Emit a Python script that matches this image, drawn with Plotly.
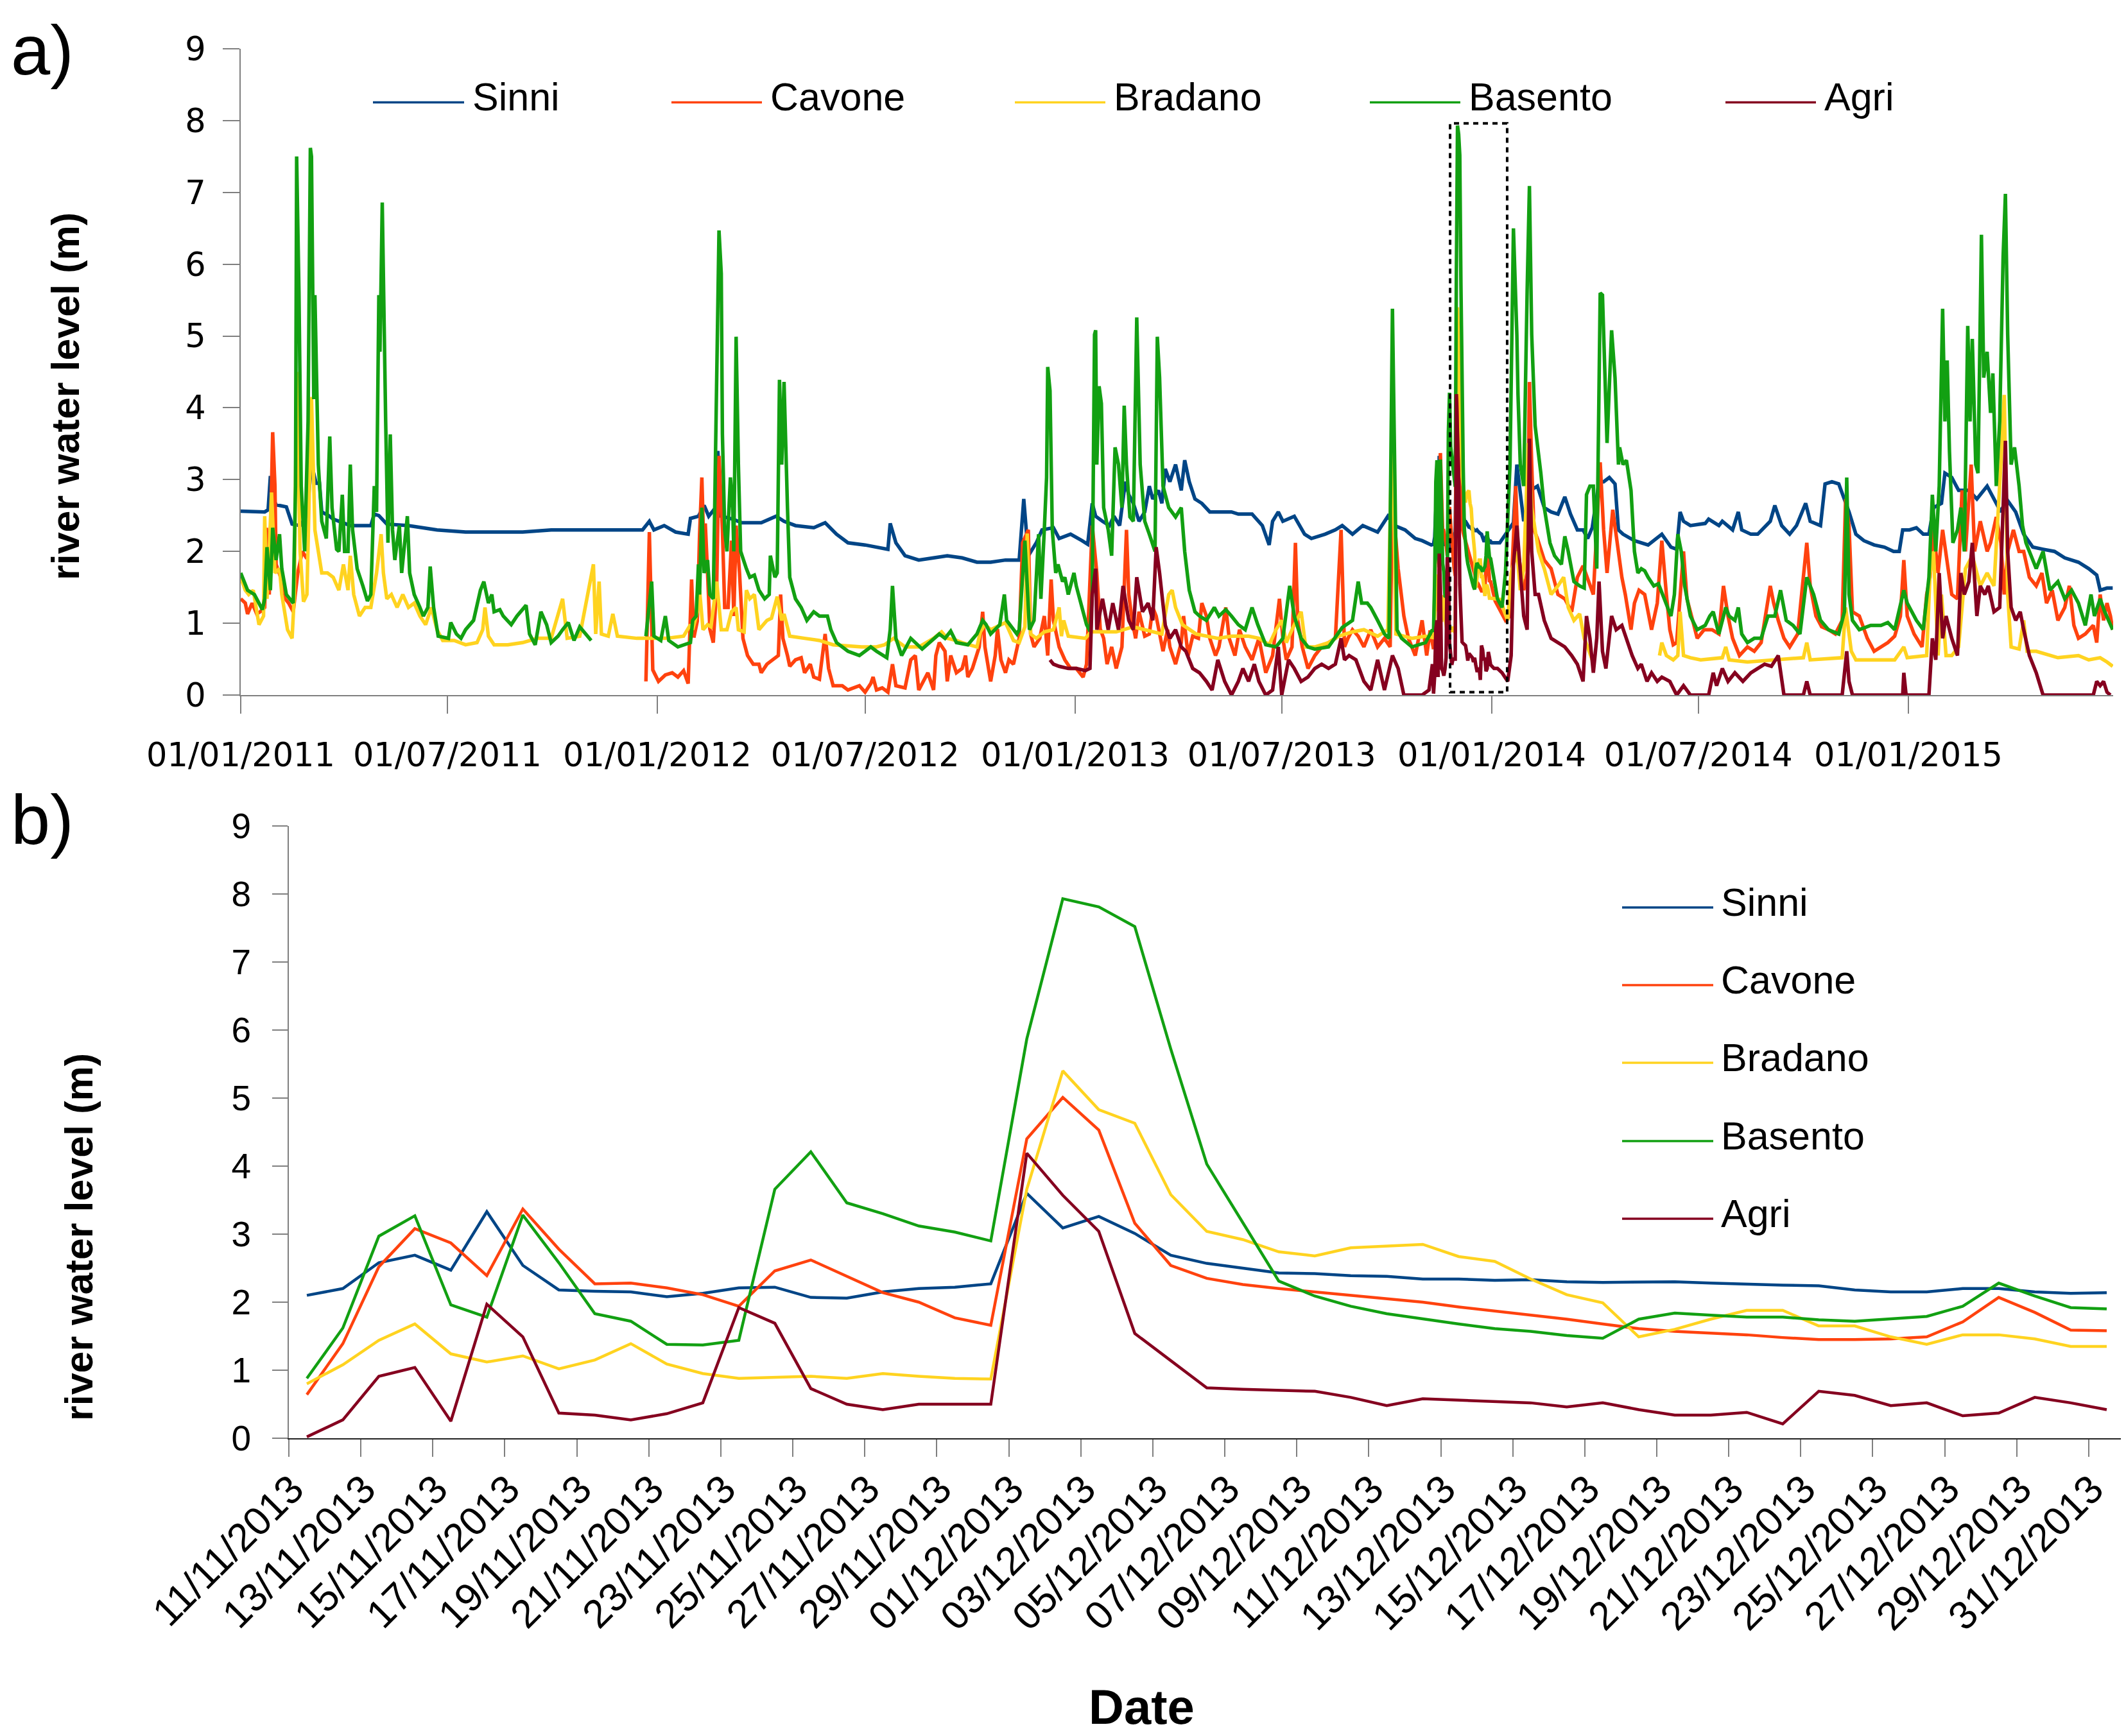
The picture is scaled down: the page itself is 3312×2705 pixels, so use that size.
import pandas as pd
import plotly.graph_objects as go

W, H = 3312, 2705
START = pd.Timestamp("2011-01-01")

names = ["Sinni", "Cavone", "Bradano", "Basento", "Agri"]
colors = ["#004586", "#ff420e", "#ffd320", "#12a012", "#85001f"]

# ---- panel b: daily river level, 11/11/2013 .. 31/12/2013
b_dates = pd.date_range("2013-11-11", "2013-12-31", freq="D")
b_ticks = ["11/11/2013", "13/11/2013", "15/11/2013", "17/11/2013", "19/11/2013",
           "21/11/2013", "23/11/2013", "25/11/2013", "27/11/2013", "29/11/2013",
           "01/12/2013", "03/12/2013", "05/12/2013", "07/12/2013", "09/12/2013",
           "11/12/2013", "13/12/2013", "15/12/2013", "17/12/2013", "19/12/2013",
           "21/12/2013", "23/12/2013", "25/12/2013", "27/12/2013", "29/12/2013",
           "31/12/2013"]

b_sinni = [2.10, 2.20, 2.58, 2.69, 2.47, 3.33, 2.54, 2.18, 2.16, 2.15,
           2.08, 2.13, 2.21, 2.22, 2.07, 2.06, 2.15, 2.20, 2.22, 2.27,
           3.60, 3.09, 3.26, 3.01, 2.69, 2.57, 2.50, 2.43, 2.42, 2.39,
           2.38, 2.34, 2.34, 2.32, 2.33, 2.30, 2.29, 2.29, 2.30, 2.28,
           2.26, 2.25, 2.24, 2.18, 2.15, 2.15, 2.20, 2.20, 2.15, 2.13, 2.14]
b_cavone = [0.64, 1.39, 2.52, 3.08, 2.87, 2.39, 3.37, 2.78, 2.27, 2.28,
            2.21, 2.11, 1.94, 2.46, 2.62, 2.38, 2.14, 2.00, 1.77, 1.66,
            4.40, 5.01, 4.53, 3.16, 2.54, 2.35, 2.26, 2.20, 2.15, 2.11,
            2.06, 2.00, 1.93, 1.87, 1.82, 1.75, 1.68, 1.61, 1.57, 1.55,
            1.52, 1.48, 1.45, 1.45, 1.46, 1.49, 1.71, 2.07, 1.85, 1.59, 1.58]
b_bradano = [0.80, 1.08, 1.44, 1.68, 1.24, 1.12, 1.21, 1.02, 1.15, 1.39,
             1.09, 0.95, 0.88, 0.90, 0.91, 0.88, 0.95, 0.91, 0.88, 0.87,
             3.66, 5.40, 4.83, 4.63, 3.58, 3.04, 2.92, 2.74, 2.68, 2.80,
             2.83, 2.85, 2.67, 2.60, 2.34, 2.11, 1.99, 1.49, 1.60, 1.75,
             1.88, 1.88, 1.65, 1.65, 1.49, 1.38, 1.52, 1.52, 1.46, 1.35, 1.35]
b_basento = [0.88, 1.62, 2.97, 3.27, 1.96, 1.78, 3.28, 2.58, 1.83, 1.72,
             1.38, 1.37, 1.44, 3.66, 4.21, 3.46, 3.30, 3.12, 3.03, 2.90,
             5.87, 7.93, 7.81, 7.52, 5.72, 4.03, 3.17, 2.31, 2.09, 1.94,
             1.83, 1.75, 1.68, 1.61, 1.57, 1.51, 1.47, 1.75, 1.84, 1.81,
             1.78, 1.78, 1.74, 1.72, 1.76, 1.79, 1.94, 2.28, 2.09, 1.92, 1.90]
b_agri = [0.02, 0.27, 0.91, 1.04, 0.25, 1.97, 1.49, 0.37, 0.34, 0.27,
          0.36, 0.52, 1.92, 1.69, 0.73, 0.50, 0.42, 0.50, 0.50, 0.50,
          4.19, 3.57, 3.04, 1.54, 1.14, 0.74, 0.72, 0.70, 0.69, 0.60,
          0.48, 0.58, 0.56, 0.54, 0.52, 0.46, 0.52, 0.42, 0.34, 0.34,
          0.38, 0.21, 0.69, 0.63, 0.48, 0.52, 0.33, 0.37, 0.60, 0.52, 0.42]

# ---- panel a: (days since 01/01/2011, level),
# before and after the Nov-Dec 2013 window (that part comes from panel b)
a_ticks = ["01/01/2011", "01/07/2011", "01/01/2012", "01/07/2012", "01/01/2013",
           "01/07/2013", "01/01/2014", "01/07/2014", "01/01/2015"]

sinni_pre = [(0, 2.56), (21, 2.55), (24, 2.58), (26, 3.05), (28, 2.75), (31, 2.65), (40, 2.62),
             (45, 2.38), (52, 2.36), (58, 2.5), (62, 3.22), (66, 2.95), (69, 2.95), (71, 2.55),
             (77, 2.5), (81, 2.45), (96, 2.36), (114, 2.36), (117, 2.52), (121, 2.5), (128, 2.38),
             (147, 2.36), (172, 2.30), (197, 2.27), (247, 2.27), (272, 2.30), (322, 2.30),
             (352, 2.30), (358, 2.42), (362, 2.30), (371, 2.36), (381, 2.27), (392, 2.24),
             (394, 2.46), (401, 2.49), (406, 2.64), (410, 2.49), (416, 2.61), (418, 3.4),
             (421, 2.49), (431, 2.45), (439, 2.40), (456, 2.40), (469, 2.49), (476, 2.42),
             (486, 2.36), (502, 2.33), (512, 2.40), (522, 2.24), (532, 2.12), (547, 2.09),
             (567, 2.03), (569, 2.39), (574, 2.12), (582, 1.94), (594, 1.88), (607, 1.91),
             (619, 1.94), (632, 1.91), (645, 1.85), (657, 1.85), (670, 1.88), (682, 1.88),
             (686, 2.73), (690, 1.94), (697, 2.12), (702, 2.30), (712, 2.33), (717, 2.18),
             (727, 2.24), (737, 2.15), (742, 2.10), (746, 2.67), (749, 2.49), (755, 2.42),
             (761, 2.36), (765, 2.49), (770, 2.36), (775, 2.97), (778, 2.79), (782, 2.67),
             (787, 2.42), (792, 2.55), (796, 2.91), (799, 2.73), (804, 2.85), (807, 2.67),
             (810, 3.15), (814, 2.97), (819, 3.21), (824, 2.85), (827, 3.27), (831, 2.97),
             (836, 2.73), (842, 2.67), (849, 2.55), (859, 2.55), (868, 2.55), (874, 2.52),
             (886, 2.52), (895, 2.36), (901, 2.09), (904, 2.42), (909, 2.55), (913, 2.42),
             (923, 2.49), (932, 2.24), (938, 2.18), (950, 2.24), (959, 2.30), (965, 2.36),
             (974, 2.24), (983, 2.36), (996, 2.27), (1005, 2.49), (1011, 2.36), (1020, 2.30),
             (1029, 2.18), (1035, 2.15), (1043, 2.09)]
sinni_post = [(1096, 2.12), (1103, 2.12), (1115, 2.40), (1118, 3.21), (1121, 2.79), (1124, 2.42),
              (1130, 2.85), (1136, 2.91), (1142, 2.61), (1148, 2.55), (1154, 2.52), (1160, 2.76),
              (1165, 2.52), (1171, 2.30), (1176, 2.30), (1180, 2.18), (1184, 2.33), (1190, 2.97),
              (1194, 2.97), (1199, 3.03), (1204, 2.94), (1207, 2.30), (1211, 2.24), (1221, 2.15),
              (1233, 2.09), (1245, 2.24), (1253, 2.06), (1258, 2.03), (1261, 2.55), (1264, 2.42),
              (1270, 2.36), (1283, 2.39), (1286, 2.45), (1295, 2.36), (1298, 2.42), (1307, 2.30),
              (1312, 2.55), (1315, 2.30), (1323, 2.24), (1329, 2.24), (1340, 2.42), (1344, 2.64),
              (1350, 2.36), (1357, 2.24), (1363, 2.36), (1371, 2.67), (1375, 2.42), (1384, 2.36),
              (1388, 2.94), (1394, 2.97), (1400, 2.94), (1405, 2.73), (1409, 2.55), (1415, 2.24),
              (1422, 2.15), (1431, 2.09), (1440, 2.06), (1448, 2.00), (1453, 2.00), (1456, 2.30),
              (1462, 2.30), (1468, 2.33), (1474, 2.24), (1479, 2.24), (1483, 2.61), (1490, 2.67),
              (1493, 3.09), (1499, 3.03), (1505, 2.85), (1514, 2.85), (1521, 2.73), (1530, 2.91),
              (1536, 2.73), (1542, 2.55), (1547, 2.73), (1555, 2.55), (1562, 2.24), (1570, 2.06),
              (1579, 2.03), (1589, 2.00), (1598, 1.91), (1610, 1.85), (1619, 1.76), (1626, 1.67),
              (1629, 1.46), (1635, 1.49), (1640, 1.49)]

cavone_pre = [(0, 1.34), (4, 1.28), (6, 1.13), (10, 1.28), (14, 1.13), (17, 1.16), (21, 1.22),
              (22.5, 2.33), (25, 1.40), (28, 3.66), (30, 2.91), (31, 1.82), (35, 1.64), (39, 1.34),
              (42, 1.28), (46, 1.16), (50, 1.7), (54, 2.0), (58, 1.9), (59, None),
              (355, 0.19), (358, 2.27), (361, 0.35), (366, 0.19), (372, 0.28), (378, 0.31),
              (383, 0.25), (388, 0.34), (392, 0.16), (395, 1.61), (397, 0.8), (400, 1.03),
              (402, 2.24), (404, 3.03), (406, 1.88), (407, 2.39), (409, 1.70), (411, 0.92),
              (414, 0.73), (417, 1.52), (419, 3.33), (422, 2.30), (424, 1.22), (427, 1.22),
              (430, 2.15), (432, 1.10), (434, 2.36), (437, 1.70), (440, 0.79), (444, 0.55),
              (449, 0.43), (454, 0.43), (456, 0.31), (461, 0.43), (466, 0.49), (471, 0.55),
              (473, 1.40), (475, 0.79), (479, 0.55), (481, 0.40), (486, 0.49), (491, 0.52),
              (494, 0.31), (499, 0.43), (502, 0.25), (507, 0.22), (512, 0.85), (515, 0.37),
              (519, 0.13), (527, 0.13), (532, 0.07), (542, 0.13), (547, 0.04), (552, 0.16),
              (554, 0.25), (557, 0.07), (562, 0.10), (567, 0.04), (571, 0.43), (574, 0.13),
              (582, 0.10), (587, 0.49), (591, 0.55), (594, 0.07), (602, 0.31), (607, 0.07),
              (609, 0.55), (612, 0.73), (617, 0.61), (619, 0.19), (622, 0.55), (627, 0.31),
              (632, 0.37), (635, 0.55), (637, 0.25), (641, 0.37), (647, 0.67), (650, 1.16),
              (652, 0.67), (657, 0.19), (661, 0.55), (663, 0.92), (666, 0.49), (670, 0.31),
              (673, 0.49), (677, 0.43), (682, 0.79), (685, 2.12), (690, 2.30), (692, 0.85),
              (695, 0.67), (700, 0.79), (704, 1.10), (707, 0.55), (710, 1.61), (712, 1.04),
              (717, 0.67), (722, 0.49), (727, 0.37), (732, 0.37), (738, 0.25), (741, 0.43),
              (746, 2.36), (750, 1.70), (753, 0.92), (756, 0.79), (759, 0.43), (763, 0.67),
              (767, 0.37), (772, 0.67), (776, 2.30), (778, 1.40), (781, 1.04), (784, 0.79),
              (787, 1.16), (792, 0.82), (796, 0.85), (799, 1.22), (802, 1.10), (805, 0.85),
              (808, 0.61), (812, 0.91), (814, 0.67), (819, 0.43), (824, 0.73), (826, 1.10),
              (830, 0.55), (834, 0.82), (839, 0.79), (842, 1.28), (846, 1.10), (849, 0.79),
              (854, 0.55), (857, 0.67), (863, 1.22), (866, 0.79), (871, 0.55), (875, 0.91),
              (880, 0.67), (886, 0.49), (892, 0.79), (898, 0.31), (904, 0.55), (910, 1.34),
              (913, 0.79), (916, 0.49), (921, 0.67), (924, 2.12), (926, 1.04), (930, 0.67),
              (935, 0.37), (941, 0.55), (947, 0.67), (953, 0.73), (959, 0.79), (964, 2.30),
              (967, 0.67), (970, 0.79), (974, 0.91), (979, 0.82), (984, 0.67), (990, 0.91),
              (996, 0.67), (1002, 0.79), (1007, 0.67), (1009, 2.79), (1014, 1.76), (1019, 1.10),
              (1023, 0.79), (1029, 0.55), (1035, 1.04), (1039, 0.55), (1042, 0.90)]
cavone_post = [(1099, 1.31), (1104, 1.16), (1108, 1.04), (1112, 1.10), (1115, 2.30), (1117, 2.91),
               (1119, 2.0), (1124, 1.46), (1127, 1.70), (1129, 4.36), (1131, 3.21), (1133, 2.30),
               (1136, 2.18), (1142, 1.88), (1148, 1.76), (1154, 1.40), (1160, 1.34), (1166, 1.16),
               (1171, 1.64), (1176, 1.8), (1185, 1.40), (1191, 3.24), (1194, 2.30), (1197, 1.70),
               (1202, 2.58), (1207, 2.00), (1210, 1.64), (1213, 1.40), (1218, 0.91), (1221, 1.28),
               (1225, 1.46), (1230, 1.40), (1236, 0.91), (1241, 1.28), (1245, 2.15), (1249, 1.40),
               (1252, 0.91), (1255, 0.70), (1258, 0.73), (1264, 2.00), (1267, 1.34), (1272, 1.04),
               (1276, 0.79), (1282, 0.91), (1289, 0.91), (1295, 0.85), (1299, 1.52), (1303, 1.10),
               (1307, 0.79), (1313, 0.55), (1320, 0.67), (1326, 0.61), (1332, 0.73), (1340, 1.52),
               (1343, 1.28), (1347, 1.04), (1352, 0.79), (1357, 0.67), (1364, 0.85), (1372, 2.12),
               (1375, 1.52), (1380, 1.10), (1385, 0.95), (1391, 0.91), (1397, 0.85), (1403, 1.04),
               (1406, 2.73), (1409, 2.36), (1412, 1.16), (1418, 1.10), (1425, 0.79), (1431, 0.61),
               (1437, 0.67), (1443, 0.73), (1449, 0.82), (1454, 1.10), (1457, 1.88), (1460, 1.10),
               (1466, 0.85), (1473, 0.67), (1477, 1.40), (1480, 1.64), (1483, 2.30), (1487, 1.70),
               (1491, 2.30), (1496, 1.76), (1499, 1.40), (1504, 1.34), (1508, 2.85), (1511, 2.00),
               (1516, 3.21), (1519, 2.00), (1524, 2.42), (1530, 2.00), (1533, 2.12), (1538, 2.48),
               (1542, 2.12), (1545, 1.40), (1548, 2.00), (1553, 2.30), (1558, 2.00), (1562, 2.00),
               (1567, 1.64), (1573, 1.52), (1578, 1.70), (1582, 1.28), (1587, 1.46), (1592, 1.04),
               (1598, 1.22), (1602, 1.52), (1606, 0.97), (1610, 0.79), (1616, 0.85), (1623, 0.97),
               (1626, 0.73), (1629, 1.40), (1632, 1.04), (1635, 1.28), (1638, 1.10), (1640, 0.91)]

bradano_pre = [(0, 1.64), (4, 1.46), (7, 1.40), (11, 1.46), (16, 0.98), (20, 1.10), (21, 2.49),
               (23, 1.34), (25, 2.0), (27, 2.82), (30, 1.70), (34, 1.76), (36, 1.40), (41, 0.91),
               (45, 0.79), (47, 1.40), (49, 4.5), (52, 2.0), (55, 1.3), (58, 1.40), (62, 4.15),
               (65, 2.30), (68, 2.00), (71, 1.70), (76, 1.70), (81, 1.64), (86, 1.46), (90, 1.82),
               (94, 1.46), (96, 1.94), (99, 1.40), (104, 1.10), (109, 1.22), (114, 1.22),
               (119, 1.70), (123, 2.24), (125, 1.70), (128, 1.34), (132, 1.40), (137, 1.22),
               (142, 1.40), (147, 1.22), (152, 1.28), (157, 1.10), (162, 0.98), (167, 1.22),
               (172, 0.91), (177, 0.76), (187, 0.76), (197, 0.70), (207, 0.73), (212, 0.91),
               (214, 1.22), (217, 0.82), (222, 0.70), (234, 0.70), (247, 0.73), (260, 0.79),
               (272, 0.79), (282, 1.34), (286, 0.79), (297, 0.82), (309, 1.82), (311, 0.85),
               (314, 1.58), (316, 0.85), (322, 0.82), (326, 1.13), (330, 0.82), (347, 0.79),
               (373, 0.79), (388, 0.82), (394, 0.98), (396, 0.91), (400, 1.16), (402, 1.46),
               (405, 0.91), (409, 0.98), (412, 0.95), (417, 1.58), (421, 0.91), (426, 0.91),
               (430, 1.16), (434, 1.22), (436, 0.91), (441, 0.88), (443, 1.46), (446, 1.34),
               (450, 1.40), (454, 0.91), (461, 1.04), (465, 1.07), (470, 1.37), (474, 1.04),
               (476, 1.13), (481, 0.82), (494, 0.79), (507, 0.76), (519, 0.70), (544, 0.67),
               (557, 0.67), (564, 0.70), (572, 0.79), (577, 0.73), (582, 0.67), (594, 0.67),
               (607, 0.79), (614, 0.88), (619, 0.79), (627, 0.76), (632, 0.73), (645, 0.67),
               (648, 0.88), (652, 0.98), (657, 0.91), (670, 1.01), (677, 0.76), (682, 0.73),
               (687, 0.95), (689, 2.25), (692, 0.85), (697, 0.79), (704, 0.88), (712, 0.91),
               (717, 1.22), (719, 0.82), (721, 1.04), (725, 0.82), (740, 0.79), (745, 0.88),
               (752, 0.88), (767, 0.88), (782, 0.95), (798, 0.88), (807, 0.85), (813, 1.40),
               (816, 1.46), (819, 1.22), (825, 0.98), (837, 0.85), (856, 0.79), (868, 0.82),
               (883, 0.82), (892, 0.79), (901, 0.70), (907, 0.91), (912, 1.04), (916, 0.73),
               (923, 0.98), (929, 1.16), (933, 0.67), (941, 0.67), (953, 0.73), (962, 0.82),
               (974, 0.88), (984, 0.91), (996, 0.82), (1005, 0.91), (1009, 3.99), (1012, 0.85),
               (1026, 0.79), (1038, 0.82)]
bradano_post = [(1104, 1.33), (1107, 1.16), (1110, 1.04), (1113, 1.70), (1118, 2.00), (1121, 1.46),
                (1124, 1.76), (1128, 3.51), (1131, 2.61), (1134, 2.30), (1137, 2.00), (1142, 1.76),
                (1148, 1.40), (1154, 1.52), (1159, 1.64), (1163, 1.22), (1168, 1.04), (1173, 1.13),
                (1177, 0.79), (1180, 0.67), (1184, 0.49), (1186, None),
                (1243, 0.55), (1245, 0.73), (1249, 0.55), (1255, 0.49), (1259, 0.55), (1261, 1.16),
                (1264, 0.55), (1270, 0.52), (1279, 0.49), (1298, 0.52), (1301, 0.67), (1304, 0.49),
                (1320, 0.46), (1344, 0.49), (1369, 0.52), (1372, 0.73), (1375, 0.49), (1403, 0.52),
                (1406, 1.22), (1411, 0.61), (1415, 0.49), (1449, 0.49), (1457, 0.67), (1460, 0.52),
                (1477, 0.55), (1480, 1.70), (1483, 2.00), (1487, 0.55), (1490, 1.40), (1494, 0.55),
                (1499, 0.55), (1505, 0.67), (1511, 1.76), (1517, 1.94), (1524, 1.52), (1530, 1.70),
                (1536, 1.52), (1542, 3.21), (1545, 4.18), (1548, 1.40), (1551, 0.67), (1558, 0.64),
                (1562, 1.04), (1565, 0.61), (1573, 0.61), (1592, 0.52), (1610, 0.55), (1619, 0.49),
                (1629, 0.52), (1635, 0.46), (1640, 0.40)]

basento_pre = [(0, 1.70), (6, 1.46), (12, 1.40), (19, 1.19), (21, 1.34), (23, 2.06), (26, 1.46),
               (28, 2.33), (31, 1.88), (34, 2.24), (36, 1.76), (40, 1.40), (46, 1.28), (48, 2.91),
               (49, 7.50), (51, 5.63), (53, 2.91), (56, 2.00), (59, 3.81), (61, 7.62), (62, 7.5),
               (63, 5.02), (64, 4.12), (65, 5.57), (68, 3.21), (71, 2.42), (75, 2.18), (78, 3.60),
               (80, 2.61), (84, 2.03), (86, 2.00), (89, 2.79), (91, 2.00), (94, 2.00), (96, 3.21),
               (98, 2.30), (102, 1.76), (107, 1.52), (111, 1.31), (114, 1.40), (117, 2.91),
               (119, 2.55), (121, 5.57), (122, 4.78), (124, 6.86), (127, 3.81), (129, 2.12),
               (131, 3.63), (133, 2.30), (135, 1.88), (139, 2.36), (141, 1.70), (146, 2.49),
               (148, 1.70), (152, 1.40), (157, 1.22), (160, 1.10), (164, 1.22), (166, 1.79),
               (169, 1.22), (173, 0.82), (182, 0.79), (184, 1.01), (189, 0.85), (193, 0.79),
               (197, 0.91), (204, 1.04), (210, 1.46), (213, 1.58), (217, 1.28), (220, 1.40),
               (222, 1.16), (227, 1.19), (230, 1.10), (237, 0.98), (242, 1.10), (247, 1.19),
               (250, 1.25), (253, 0.85), (258, 0.70), (263, 1.16), (268, 0.98), (272, 0.73),
               (278, 0.82), (282, 0.91), (287, 1.01), (292, 0.76), (297, 0.95), (307, 0.76),
               (308, None),
               (355, 0.82), (360, 1.58), (362, 0.82), (368, 0.76), (372, 1.10), (375, 0.76),
               (383, 0.67), (389, 0.70), (394, 0.73), (396, 1.04), (399, 1.10), (401, 1.82),
               (402, 1.40), (404, 2.61), (406, 1.70), (409, 1.88), (411, 1.40), (414, 1.34),
               (416, 3.21), (419, 6.47), (421, 5.87), (422, 3.63), (424, 2.30), (426, 2.00),
               (429, 3.03), (431, 2.61), (432, 2.00), (434, 4.99), (436, 3.21), (438, 2.00),
               (443, 1.76), (446, 1.64), (450, 1.67), (454, 1.46), (459, 1.34), (463, 1.40),
               (464, 1.94), (468, 1.64), (470, 1.70), (472, 4.39), (474, 3.21), (476, 4.36),
               (479, 2.61), (481, 1.64), (486, 1.34), (491, 1.22), (496, 1.04), (502, 1.16),
               (507, 1.10), (514, 1.10), (517, 0.91), (522, 0.73), (532, 0.61), (542, 0.55),
               (552, 0.67), (557, 0.61), (566, 0.52), (569, 0.91), (571, 1.52), (574, 0.79),
               (579, 0.55), (587, 0.79), (597, 0.64), (607, 0.79), (612, 0.85), (617, 0.79),
               (622, 0.89), (627, 0.73), (637, 0.70), (645, 0.85), (650, 1.04), (653, 0.98),
               (657, 0.85), (665, 0.98), (669, 1.40), (671, 1.04), (680, 0.85), (682, 0.91),
               (687, 2.15), (691, 0.91), (695, 1.04), (699, 2.24), (701, 1.34), (704, 2.30),
               (706, 3.03), (707, 4.57), (709, 4.24), (711, 2.30), (714, 1.70), (716, 1.82),
               (720, 1.58), (722, 1.64), (725, 1.40), (730, 1.70), (732, 1.52), (737, 1.22),
               (741, 0.98), (744, 0.89), (746, 1.40), (748, 5.02), (749, 5.08), (750, 3.21),
               (752, 4.30), (754, 4.06), (756, 2.61), (760, 2.30), (763, 1.94), (766, 3.45),
               (769, 3.21), (772, 2.61), (774, 4.03), (776, 3.21), (779, 2.48), (782, 2.42),
               (785, 5.26), (788, 3.21), (792, 2.42), (796, 2.24), (801, 2.00), (803, 4.99),
               (805, 4.42), (808, 2.91), (813, 2.61), (819, 2.48), (824, 2.61), (827, 2.00),
               (831, 1.46), (836, 1.16), (840, 1.10), (846, 1.04), (853, 1.22), (857, 1.10),
               (863, 1.19), (868, 1.10), (874, 0.98), (880, 0.91), (886, 1.22), (891, 0.98),
               (898, 0.70), (907, 0.67), (913, 0.79), (919, 1.52), (923, 1.10), (929, 0.79),
               (935, 0.67), (941, 0.64), (953, 0.67), (965, 0.94), (974, 1.04), (979, 1.58),
               (982, 1.28), (987, 1.28), (990, 1.22), (996, 1.04), (1002, 0.85), (1006, 0.79),
               (1009, 5.38), (1013, 0.91), (1017, 0.79), (1026, 0.67), (1038, 0.73), (1044, 0.91)]
basento_post = [(1101, 1.34), (1105, 1.22), (1108, 1.70), (1112, 3.21), (1115, 6.50), (1118, 5.02),
                (1119, 4.18), (1121, 3.21), (1124, 2.91), (1127, 5.63), (1129, 7.09), (1131, 5.02),
                (1134, 3.75), (1139, 3.09), (1142, 2.61), (1147, 2.12), (1151, 1.94), (1157, 1.82),
                (1160, 2.21), (1163, 2.00), (1168, 1.58), (1173, 1.52), (1177, 1.49), (1179, 2.79),
                (1182, 2.91), (1185, 2.91), (1188, 1.76), (1191, 5.60), (1193, 5.57), (1197, 3.51),
                (1201, 5.08), (1204, 4.42), (1207, 3.21), (1208, 3.45), (1211, 3.21), (1214, 3.27),
                (1218, 2.85), (1221, 2.00), (1224, 1.70), (1227, 1.76), (1230, 1.73), (1233, 1.64),
                (1238, 1.52), (1242, 1.55), (1247, 1.34), (1253, 1.10), (1256, 1.40), (1259, 2.24),
                (1262, 2.00), (1265, 1.52), (1270, 1.10), (1276, 0.91), (1283, 0.97), (1287, 1.10),
                (1290, 1.16), (1295, 0.85), (1301, 1.22), (1304, 1.10), (1309, 1.04), (1312, 1.22),
                (1315, 0.85), (1320, 0.73), (1326, 0.79), (1332, 0.79), (1338, 1.10), (1344, 1.10),
                (1349, 1.46), (1354, 1.04), (1360, 0.97), (1366, 0.85), (1372, 1.64), (1378, 1.40),
                (1384, 1.04), (1391, 0.91), (1400, 0.85), (1405, 1.16), (1407, 3.03), (1409, 1.40),
                (1412, 1.04), (1418, 0.91), (1428, 0.97), (1437, 0.97), (1443, 1.01), (1449, 0.91),
                (1457, 1.46), (1460, 1.28), (1468, 1.04), (1474, 0.91), (1479, 1.64), (1482, 2.79),
                (1485, 2.00), (1488, 2.91), (1491, 5.38), (1493, 3.81), (1495, 4.66), (1497, 3.39),
                (1500, 2.12), (1504, 2.30), (1507, 2.61), (1510, 2.00), (1513, 5.14), (1515, 3.81),
                (1517, 4.96), (1520, 3.21), (1522, 3.09), (1525, 6.41), (1527, 4.42), (1530, 4.78),
                (1533, 3.93), (1535, 4.48), (1538, 2.91), (1541, 3.81), (1544, 6.11), (1546, 6.98),
                (1548, 5.02), (1551, 3.21), (1554, 3.45), (1558, 2.91), (1561, 2.36), (1564, 2.12),
                (1567, 2.00), (1573, 1.76), (1579, 2.00), (1585, 1.46), (1592, 1.58), (1598, 1.34),
                (1604, 1.46), (1610, 1.28), (1616, 0.97), (1621, 1.40), (1624, 1.10), (1629, 1.34),
                (1633, 1.16), (1636, 1.04), (1640, 0.91)]

agri_pre = [(709, 0.49), (712, 0.43), (717, 0.40), (725, 0.37), (732, 0.37), (740, 0.34),
            (744, 0.37), (746, 1.40), (749, 1.76), (750, 0.91), (755, 1.34), (760, 0.91),
            (764, 1.28), (769, 0.91), (773, 1.52), (778, 1.04), (782, 0.91), (785, 1.64),
            (790, 1.16), (795, 1.28), (799, 1.04), (802, 2.06), (805, 1.70), (810, 0.97),
            (814, 0.79), (819, 0.91), (824, 0.67), (828, 0.61), (834, 0.37), (840, 0.31),
            (846, 0.19), (851, 0.07), (856, 0.49), (862, 0.19), (868, 0.0), (874, 0.19),
            (878, 0.37), (883, 0.19), (888, 0.43), (892, 0.19), (898, 0.0), (904, 0.07),
            (909, 0.67), (912, 0.0), (918, 0.49), (923, 0.37), (929, 0.19), (935, 0.25),
            (941, 0.37), (947, 0.43), (953, 0.37), (959, 0.43), (964, 0.79), (967, 0.49),
            (971, 0.55), (977, 0.49), (984, 0.19), (990, 0.07), (996, 0.49), (1002, 0.07),
            (1009, 0.55), (1014, 0.37), (1019, 0.0), (1026, 0.0), (1035, 0.0), (1041, 0.07),
            (1044, 0.43)]
agri_post = [(1098, 0.37), (1101, 0.37), (1105, 0.31), (1110, 0.19), (1113, 0.55), (1115, 1.82),
             (1118, 2.36), (1121, 1.70), (1124, 1.10), (1127, 0.91), (1129, 3.57), (1131, 2.00),
             (1134, 1.40), (1137, 1.40), (1142, 1.04), (1148, 0.79), (1154, 0.73), (1160, 0.67),
             (1166, 0.55), (1171, 0.43), (1176, 0.19), (1179, 1.10), (1182, 0.79), (1185, 0.31),
             (1188, 0.79), (1190, 1.58), (1193, 0.61), (1196, 0.37), (1201, 1.10), (1205, 0.91),
             (1210, 0.97), (1214, 0.79), (1219, 0.55), (1224, 0.37), (1227, 0.43), (1232, 0.19),
             (1236, 0.31), (1241, 0.19), (1245, 0.25), (1252, 0.19), (1258, 0.0), (1264, 0.13),
             (1270, 0.0), (1286, 0.0), (1290, 0.31), (1293, 0.13), (1298, 0.37), (1303, 0.19),
             (1309, 0.31), (1316, 0.19), (1323, 0.31), (1329, 0.37), (1335, 0.43), (1341, 0.40),
             (1347, 0.55), (1352, 0.0), (1369, 0.0), (1372, 0.19), (1375, 0.0), (1403, 0.0),
             (1407, 0.61), (1409, 0.19), (1412, 0.0), (1456, 0.0), (1457, 0.31), (1459, 0.0),
             (1479, 0.0), (1482, 0.79), (1485, 0.49), (1488, 1.70), (1491, 0.79), (1494, 1.10),
             (1499, 0.79), (1504, 0.55), (1507, 1.70), (1510, 1.40), (1514, 1.58), (1517, 2.12),
             (1521, 1.10), (1524, 1.52), (1528, 1.40), (1531, 1.52), (1536, 1.16), (1541, 1.22),
             (1544, 2.61), (1546, 3.54), (1548, 2.00), (1551, 1.22), (1555, 1.04), (1559, 1.16),
             (1562, 0.91), (1567, 0.55), (1573, 0.31), (1579, 0.0), (1623, 0.0), (1626, 0.19),
             (1629, 0.13), (1632, 0.19), (1635, 0.04), (1638, 0.0)]

pre = [sinni_pre, cavone_pre, bradano_pre, basento_pre, agri_pre]
post = [sinni_post, cavone_post, bradano_post, basento_post, agri_post]
window = [b_sinni, b_cavone, b_bradano, b_basento, b_agri]


def to_frame(points):
    days = [p[0] for p in points]
    return pd.DataFrame({"date": START + pd.to_timedelta(days, unit="D"),
                         "level": [p[1] for p in points]})


def px_x(p):
    return p / W


def px_y(p):
    return 1 - p / H


fig = go.Figure()
for name, color, a0, a1, bv in zip(names, colors, pre, post, window):
    full = pd.concat([to_frame(a0), pd.DataFrame({"date": b_dates, "level": bv}), to_frame(a1)])
    fig.add_trace(go.Scatter(x=full["date"], y=full["level"], mode="lines", name=name,
                             line=dict(color=color, width=5.5), connectgaps=False,
                             xaxis="x", yaxis="y", showlegend=False))
    fig.add_trace(go.Scatter(x=b_dates, y=bv, mode="lines", name=name,
                             line=dict(color=color, width=4.5),
                             xaxis="x2", yaxis="y2", showlegend=False))

tick_font = dict(family="DejaVu Sans", size=51, color="black")
axis_grey = "#7f7f7f"

a_tickvals = pd.to_datetime(a_ticks, format="%d/%m/%Y")
b_tickvals = pd.to_datetime(b_ticks, format="%d/%m/%Y")

fig.update_layout(
    width=W, height=H,
    margin=dict(l=0, r=0, t=0, b=0),
    paper_bgcolor="white", plot_bgcolor="white",
    xaxis=dict(domain=[px_x(367), px_x(3284)], anchor="y", type="date", automargin=False,
               range=[START, START + pd.Timedelta(days=1640.4)],
               tickmode="array", tickvals=a_tickvals, ticktext=a_ticks,
               ticks="outside", ticklen=27, tickwidth=2, tickcolor=axis_grey,
               showline=True, linecolor=axis_grey, linewidth=2,
               showgrid=False, zeroline=False, tickfont=tick_font, ticklabelstandoff=21),
    yaxis=dict(domain=[px_y(1075), px_y(68)], anchor="x", range=[0, 9], dtick=1,
               automargin=False,
               ticks="outside", ticklen=26, tickwidth=2, tickcolor=axis_grey,
               showline=True, linecolor=axis_grey, linewidth=2,
               showgrid=False, zeroline=False, tickfont=tick_font, ticklabelstandoff=16),
    # labels sit under each other day, the tick marks between the days
    xaxis2=dict(domain=[px_x(442), px_x(3302)], anchor="y2", type="date", automargin=False,
                range=[b_dates[0] - pd.Timedelta(hours=12), b_dates[-1] + pd.Timedelta(hours=12)],
                tickmode="array", tickvals=b_tickvals - pd.Timedelta(hours=10),
                ticktext=b_ticks, tickangle=-45,
                ticks="", showline=True, linecolor="#222222", linewidth=2,
                minor=dict(tickmode="array", ticks="outside", ticklen=27, tickwidth=2,
                           tickcolor=axis_grey,
                           tickvals=[d - pd.Timedelta(hours=12) for d in b_tickvals]),
                showgrid=False, zeroline=False, ticklabelstandoff=16,
                tickfont=dict(family="Liberation Sans", size=62, color="black")),
    yaxis2=dict(domain=[px_y(2233), px_y(1279)], anchor="x2", range=[0, 9], dtick=1,
                automargin=False,
                ticks="outside", ticklen=24, tickwidth=2, tickcolor=axis_grey,
                showline=True, linecolor=axis_grey, linewidth=2,
                showgrid=False, zeroline=False, ticklabelstandoff=22,
                tickfont=dict(family="Liberation Sans", size=55, color="black")),
)

# dashed box marking the Nov-Dec 2013 event on the long record
fig.add_shape(type="rect", xref="x", yref="y",
              x0=START + pd.Timedelta(days=1059.5), x1=START + pd.Timedelta(days=1109.5),
              y0=0.04, y1=7.96, line=dict(color="black", width=4, dash="8px,7px"))

# hand-made legends (long line samples as in the original)
leg_font = dict(family="Liberation Sans", size=61, color="black")
leg_a = [(573, 715), (1038, 1179), (1573, 1714), (2126, 2267), (2680, 2821)]
for (x0, x1), name, color in zip(leg_a, names, colors):
    fig.add_shape(type="line", xref="paper", yref="paper", x0=px_x(x0), x1=px_x(x1),
                  y0=px_y(151.5), y1=px_y(151.5), line=dict(color=color, width=3.5))
    fig.add_annotation(x=px_x(x1 + 11), y=px_y(143), xref="paper", yref="paper",
                       text=name, showarrow=False, xanchor="left", yanchor="middle",
                       font=leg_font)

leg_b_y = [1406, 1527, 1648, 1770, 1891]
for yy, name, color in zip(leg_b_y, names, colors):
    fig.add_shape(type="line", xref="paper", yref="paper", x0=px_x(2519), x1=px_x(2661),
                  y0=px_y(yy), y1=px_y(yy), line=dict(color=color, width=3.5))
    fig.add_annotation(x=px_x(2671), y=px_y(yy - 8), xref="paper", yref="paper",
                       text=name, showarrow=False, xanchor="left", yanchor="middle",
                       font=leg_font)

# titles and panel letters
title_font = dict(family="Liberation Sans", size=61, color="black")
for xx, yy in [(94, 610), (115, 1920)]:
    fig.add_annotation(x=px_x(xx), y=px_y(yy), xref="paper", yref="paper",
                       text="<b>river water level (m)</b>", textangle=-90, showarrow=False,
                       xanchor="center", yanchor="middle", font=title_font)
fig.add_annotation(x=px_x(1770), y=px_y(2651), xref="paper", yref="paper",
                   text="<b>Date</b>", showarrow=False, xanchor="center", yanchor="middle",
                   font=dict(family="Liberation Sans", size=76, color="black"))
for label, yy in [("a)", 70), ("b)", 1268)]:
    fig.add_annotation(x=px_x(7), y=px_y(yy), xref="paper", yref="paper", text=label,
                       showarrow=False, xanchor="left", yanchor="middle",
                       font=dict(family="Liberation Sans", size=110, color="black"))

fig.write_html("out.html")
